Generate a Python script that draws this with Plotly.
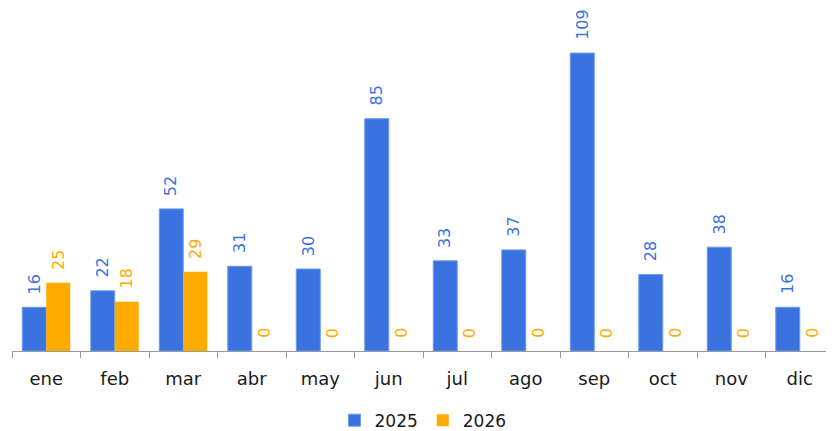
import plotly.graph_objects as go

months = ["ene", "feb", "mar", "abr", "may", "jun", "jul", "ago", "sep", "oct", "nov", "dic"]
v2025 = [16, 22, 52, 31, 30, 85, 33, 37, 109, 28, 38, 16]
v2026 = [25, 18, 29, 0, 0, 0, 0, 0, 0, 0, 0, 0]

blue = "#3A73DF"
orange = "#FFAA00"
font = "DejaVu Sans, sans-serif"

fig = go.Figure()
fig.add_trace(go.Bar(
    name="2025", x=months, y=v2025,
    marker=dict(color=blue, line=dict(color="#6E9AEB", width=1)),
))
fig.add_trace(go.Bar(
    name="2026", x=months, y=v2026,
    marker=dict(color=orange, line=dict(width=0)),
))

# value labels, rotated, above each bar
for vals, shift, col in ((v2025, -12, blue), (v2026, 12, orange)):
    for m, v in zip(months, vals):
        fig.add_annotation(
            x=m, y=v, xref="x", yref="y", text=str(v), showarrow=False,
            textangle=-90, xshift=shift, yshift=11, yanchor="bottom",
            xanchor="center", font=dict(color=col, size=16, family=font),
        )

fig.update_layout(
    width=826, height=431,
    margin=dict(l=4, r=0, t=0, b=81),
    paper_bgcolor="white", plot_bgcolor="white",
    barmode="group", bargap=0.3, bargroupgap=0,
    font=dict(family=font, color="#1a1a1a"),
    showlegend=True,
    legend=dict(orientation="h", x=0.5, xanchor="center", y=-0.203, yanchor="middle",
                font=dict(size=17, family=font), itemwidth=30, traceorder="normal"),
    xaxis=dict(showline=True, linecolor="#999999", linewidth=1, automargin=False,
               ticks="outside", tickson="boundaries", ticklen=6, tickcolor="#999999",
               ticklabelstandoff=11,
               tickfont=dict(size=18, family=font, color="#1a1a1a"), showgrid=False),
    yaxis=dict(range=[0, 125.5], visible=False, showgrid=False, zeroline=False),
)

fig.write_html("out.html")
